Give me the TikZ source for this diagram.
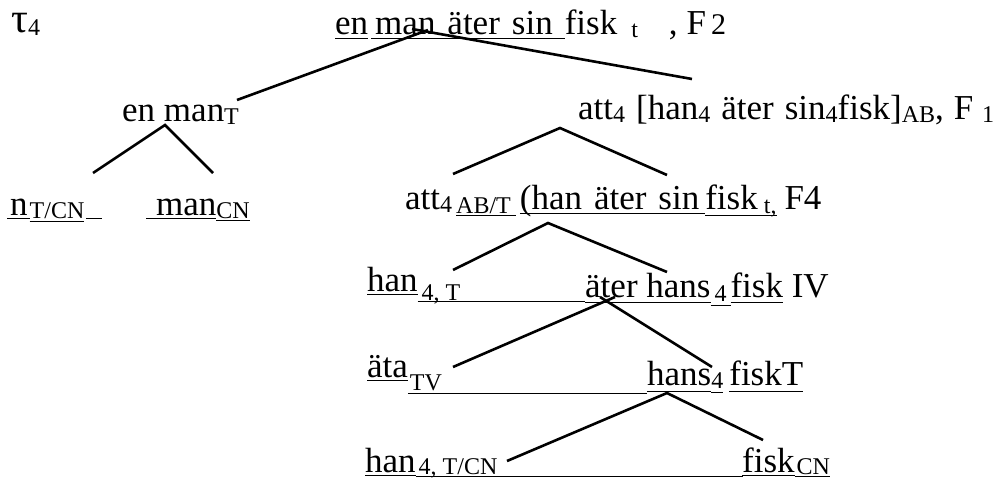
\documentclass[tikz,border=0pt]{standalone}
\usepackage{fontspec}
\setmainfont{Liberation Serif}
\newsavebox\ulbox
\newcommand\ULd[2]{\sbox\ulbox{#2}\rlap{\rule[-#1pt]{\wd\ulbox}{1.4pt}}\usebox\ulbox}
\newcommand\UL[1]{\ULd{4}{#1}}
\newcommand\Sub[2][4pt]{\raisebox{-#1}{\fontsize{24}{25}\selectfont #2}}
\begin{document}
\begin{tikzpicture}[x=1pt,y=-1pt,
  txt/.style={anchor=base west, inner sep=0pt, font=\fontsize{35}{40}\selectfont},
  edge/.style={line width=2.6pt}]
\useasboundingbox (0,0) rectangle (998,481);
% texts
\node[txt] (tau) at (11,33) {{\fontsize{42}{44}\selectfont τ}\Sub[3pt]{4}};
\node[txt] (root) at (335,35) {\UL{en}\hspace{3pt}\UL{\hspace{4pt}man\hspace{12pt}äter\hspace{12pt}sin\hspace{12pt}}fisk\hspace{14pt}\Sub[3pt]{t}\hspace{31pt},\hspace{9pt}F\hspace{5pt}{\fontsize{30}{30}\selectfont 2}};
\node[txt] (enman) at (122,122) {en man\Sub[3pt]{T}};
\node[txt] (att1) at (578,120) {att\Sub[3pt]{4}\hspace{11pt}[han\Sub[3pt]{4}\hspace{11pt}äter\hspace{11pt}sin\Sub[3pt]{4}fisk]\Sub[3pt]{AB},\hspace{10pt}F \Sub[3pt]{1}};
\node[txt] (nTCN) at (7,215) {\UL{\hspace{3pt}n\hspace{2pt}}\ULd{7}{\Sub[3pt]{T/CN}}\hspace{2pt}\UL{\hspace{16pt}}};
\node[txt] (manCN) at (146,215) {\ULd{4}{\hspace{10pt}man}\ULd{6}{\Sub[3pt]{CN}}};
\node[txt] (att2) at (405,210) {att\Sub[2pt]{4}\hspace{4pt}\ULd{6}{\Sub[3pt]{AB/T}\hspace{5pt}}\hspace{4pt}\UL{(han\hspace{12pt}äter\hspace{12pt}sin\hspace{6pt}}\ULd{6}{fisk\hspace{6pt}\Sub[3pt]{t,}}\hspace{8pt}F4};
\node[txt] (han1) at (367,291) {\UL{han}\ULd{11}{\makebox[167pt][l]{\Sub[9pt]{\,4, T}}}};
\node[txt] (ater) at (585,297) {\ULd{6}{äter hans}\ULd{9}{\hspace{4pt}\Sub[4pt]{4}\hspace{4pt}}\ULd{6}{fisk} IV};
\node[txt] (ata) at (367,377) {\UL{äta}\ULd{17}{\makebox[239pt][l]{\hspace{2pt}\Sub[13pt]{TV}}}};
\node[txt] (hans) at (647,385) {\ULd{7}{hans}\ULd{8}{\Sub[3pt]{4}}\hspace{6pt}\ULd{7}{fiskT}};
\node[txt] (han2) at (365,472) {\UL{han}\ULd{5}{\makebox[327pt][l]{\hspace{3pt}\Sub[2pt]{4, T/CN}}}};
\node[txt] (fisk) at (742,472) {\UL{fisk}\ULd{5}{\hspace{2pt}\Sub[2pt]{CN}}};
% connector end points
\coordinate (a0L) at (428,30);  \coordinate (b0L) at (237,100);
\coordinate (a0R) at (412,29);  \coordinate (b0R) at (692,79);
\coordinate (a1) at (165,125);  \coordinate (b1L) at (93,173);  \coordinate (b1R) at (213,173);
\coordinate (a2) at (560,128);  \coordinate (b2L) at (453,174); \coordinate (b2R) at (667,175);
\coordinate (a3) at (548,223);  \coordinate (b3L) at (453,270); \coordinate (b3R) at (667,272);
\coordinate (a4L) at (615,297); \coordinate (b4L) at (453,367);
\coordinate (a4R) at (600,297); \coordinate (b4R) at (712,367);
\coordinate (a5) at (667,393);  \coordinate (b5L) at (507,461); \coordinate (b5R) at (763,440);
% connectors
\draw[edge] (a0L) -- (b0L);
\draw[edge] (a0R) -- (b0R);
\draw[edge] (b1L) -- (a1) -- (b1R);
\draw[edge] (b2L) -- (a2) -- (b2R);
\draw[edge] (b3L) -- (a3) -- (b3R);
\draw[edge] (a4L) -- (b4L);
\draw[edge] (a4R) -- (b4R);
\draw[edge] (b5L) -- (a5) -- (b5R);
\end{tikzpicture}
\end{document}
